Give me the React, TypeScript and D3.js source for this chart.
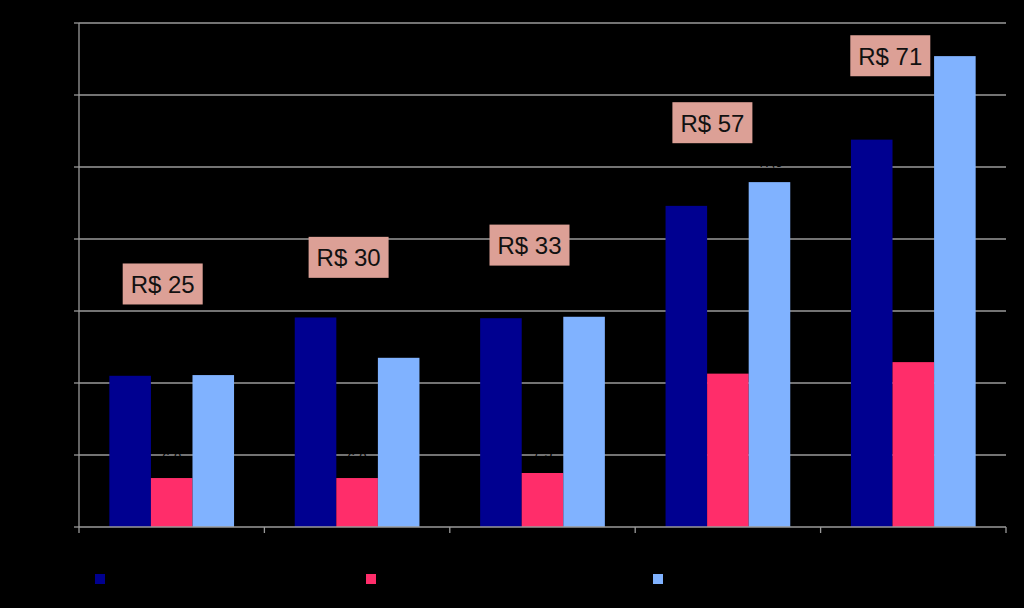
import React from "react";
import * as d3 from "d3";

const categories = ["1", "2", "3", "4", "5"];
const seriesNames = ["Série 1", "Série 2", "Série 3"];
const seriesA = [21.0, 29.1, 29.0, 44.6, 53.8];
const seriesB = [6.8, 6.8, 7.5, 21.3, 22.9];
const seriesC = [21.1, 23.5, 29.2, 47.9, 65.4];
const yTicks = [0, 10, 20, 30, 40, 50, 60, 70];
const totals = ["R$ 25", "R$ 30", "R$ 33", "R$ 57", "R$ 71"];
// annotation box layout: vertical anchor (data units, box top) and x shift from band centre (px)
const totalBoxTop = [36.6, 40.3, 42.0, 59.0, 68.3];
const totalBoxShift = [-9, -8.5, -13, -15.5, -23];

const colors = ["#000090", "#ff2d6a", "#80b2ff"];

const W = 1024;
const H = 608;
const left = 79;
const right = 1006;
const top = 23;
const bottom = 527;

export default function App() {
  const x = d3.scaleBand<string>().domain(categories).range([left, right]).paddingInner(0).paddingOuter(0);
  const xs = d3.scaleBand<string>().domain(seriesNames).range([0, x.bandwidth()]).paddingInner(0).paddingOuter(0.73);
  const y = d3.scaleLinear().domain([0, 70]).range([bottom, top]);
  const series = [seriesA, seriesB, seriesC];
  const fmt = d3.format(".1f");
  const tickEdges = [...categories.map((c) => x(c) as number), right];
  const legendX = [95, 366, 653];

  return (
    <div style={{ position: "fixed", left: 0, top: 0, width: W, height: H, background: "#000" }}>
      <svg width={W} height={H} style={{ display: "block", fontFamily: "Arial, 'Liberation Sans', sans-serif" }}>
        <rect x={0} y={0} width={W} height={H} fill="#000" />
        {yTicks.map((t) => (
          <g key={t}>
            {t > 0 && <line x1={left} x2={right} y1={y(t)} y2={y(t)} stroke="#9a9a9a" strokeWidth={1.3} />}
            <line x1={left - 5} x2={left} y1={y(t)} y2={y(t)} stroke="#9a9a9a" strokeWidth={1.3} />
            <text x={left - 8} y={y(t)} dy="0.35em" textAnchor="end" fontSize={13} fill="#000">
              {t}
            </text>
          </g>
        ))}
        {categories.map((c, i) => (
          <g key={c}>
            {series.map((s, j) => {
              const bx = (x(c) as number) + (xs(seriesNames[j]) as number);
              return (
                <rect key={j} x={bx} y={y(s[i])} width={xs.bandwidth()} height={bottom - y(s[i])} fill={colors[j]} />
              );
            })}
          </g>
        ))}
        {categories.map((c, i) => (
          <g key={"lab" + c}>
            {series.map((s, j) => {
              const bx = (x(c) as number) + (xs(seriesNames[j]) as number) + xs.bandwidth() / 2;
              return (
                <text key={j} x={bx} y={y(s[i]) - 20} textAnchor="middle" dy="0.35em" fontSize={14} fill="#000">
                  {fmt(s[i]).replace(".", ",")}
                </text>
              );
            })}
          </g>
        ))}
        <line x1={left} x2={left} y1={top} y2={bottom} stroke="#9a9a9a" strokeWidth={1.3} />
        <line x1={left} x2={right} y1={bottom} y2={bottom} stroke="#9a9a9a" strokeWidth={1.3} />
        {tickEdges.map((tx, i) => (
          <line key={i} x1={tx} x2={tx} y1={bottom} y2={bottom + 6} stroke="#9a9a9a" strokeWidth={1.3} />
        ))}
        {categories.map((c) => (
          <text key={"xl" + c} x={(x(c) as number) + x.bandwidth() / 2} y={bottom + 20} textAnchor="middle" fontSize={13} fill="#000">
            {c}
          </text>
        ))}
        {categories.map((c, i) => {
          const cx = (x(c) as number) + x.bandwidth() / 2 + totalBoxShift[i];
          const ty = y(totalBoxTop[i]);
          return (
            <g key={"tot" + c}>
              <rect x={cx - 40} y={ty} width={80} height={41} fill="#dca096" />
              <text x={cx} y={ty + 21} dy="0.36em" textAnchor="middle" fontSize={24} fill="#111">
                {totals[i]}
              </text>
            </g>
          );
        })}
        {seriesNames.map((n, j) => (
          <g key={"lg" + n}>
            <rect x={legendX[j]} y={574} width={10} height={10} fill={colors[j]} />
            <text x={legendX[j] + 16} y={579} dy="0.35em" fontSize={14} fill="#000">
              {n}
            </text>
          </g>
        ))}
      </svg>
    </div>
  );
}
